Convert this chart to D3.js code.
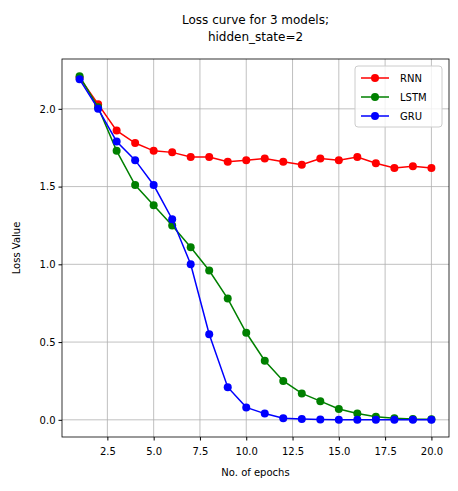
<!DOCTYPE html>
<html><head><meta charset="utf-8">
<script src="https://cdn.jsdelivr.net/npm/d3@7"></script>
<style>body{margin:0;background:#fff;font-family:"DejaVu Sans",sans-serif;}</style>
</head><body>
<svg width="458" height="491"></svg>
<script>
var epochs = d3.range(1, 21);
var rnn = [2.20,2.03,1.86,1.78,1.73,1.72,1.69,1.69,1.66,1.67,1.68,1.66,1.64,1.68,1.67,1.69,1.65,1.62,1.63,1.62];
var lstm = [2.21,2.01,1.73,1.51,1.38,1.25,1.11,0.96,0.78,0.56,0.38,0.25,0.17,0.12,0.07,0.04,0.02,0.01,0.005,0.003];
var gru = [2.19,2.00,1.79,1.67,1.51,1.29,1.00,0.55,0.21,0.08,0.04,0.01,0.005,0.002,0.001,0.001,0,0,0,0];
var seriesNames = ["RNN","LSTM","GRU"];
var seriesColors = ["#ff0000","#008000","#0000ff"];
var xTicks = [2.5,5,7.5,10,12.5,15,17.5,20];
var yTicks = [0,0.5,1,1.5,2];

var svg = d3.select("svg");
var pLeft = 62, pRight = 449, pTop = 59, pBottom = 437;
var x = d3.scaleLinear().domain([0.05, 20.95]).range([pLeft, pRight]);
var y = d3.scaleLinear().domain([-0.1105, 2.3205]).range([pBottom, pTop]);

var g = svg.append("g");
// grid
g.selectAll(".gx").data(xTicks).enter().append("line")
  .attr("x1", d => x(d)).attr("x2", d => x(d)).attr("y1", pTop).attr("y2", pBottom)
  .attr("stroke", "#b0b0b0").attr("stroke-width", 0.8);
g.selectAll(".gy").data(yTicks).enter().append("line")
  .attr("y1", d => y(d)).attr("y2", d => y(d)).attr("x1", pLeft).attr("x2", pRight)
  .attr("stroke", "#b0b0b0").attr("stroke-width", 0.8);

var xAxis = g.append("g").attr("transform", "translate(0," + pBottom + ")")
  .call(d3.axisBottom(x).tickValues(xTicks).tickFormat(d3.format(".1f")).tickSizeOuter(0).tickSize(3.5));
var yAxis = g.append("g").attr("transform", "translate(" + pLeft + ",0)")
  .call(d3.axisLeft(y).tickValues(yTicks).tickFormat(d3.format(".1f")).tickSizeOuter(0).tickSize(3.5));
[xAxis, yAxis].forEach(function(a) {
  a.select(".domain").remove();
  a.selectAll("text").attr("font-size", 10).attr("font-family", "DejaVu Sans").attr("fill", "#000");
});
xAxis.selectAll("text").attr("dy", "1.1em");

var line = d3.line().x((d, i) => x(epochs[i])).y(d => y(d));
[rnn, lstm, gru].forEach(function(s, k) {
  g.append("path").attr("d", line(s)).attr("fill", "none")
    .attr("stroke", seriesColors[k]).attr("stroke-width", 1.5);
  g.selectAll(".p" + k).data(s).enter().append("circle")
    .attr("cx", (d, i) => x(epochs[i])).attr("cy", d => y(d)).attr("r", 4)
    .attr("fill", seriesColors[k]);
});

g.append("rect").attr("x", pLeft).attr("y", pTop).attr("width", pRight - pLeft).attr("height", pBottom - pTop)
  .attr("fill", "none").attr("stroke", "#000").attr("stroke-width", 0.8);

// legend
var lg = g.append("g").attr("transform", "translate(355,66)");
lg.append("rect").attr("width", 87).attr("height", 61).attr("rx", 3)
  .attr("fill", "#fff").attr("fill-opacity", 0.8).attr("stroke", "#ccc");
seriesNames.forEach(function(n, k) {
  var yy = 12 + k * 19;
  lg.append("line").attr("x1", 6).attr("x2", 34).attr("y1", yy).attr("y2", yy)
    .attr("stroke", seriesColors[k]).attr("stroke-width", 1.5);
  lg.append("circle").attr("cx", 20).attr("cy", yy).attr("r", 4).attr("fill", seriesColors[k]);
  lg.append("text").attr("x", 45).attr("y", yy + 4).attr("font-size", 10).text(n);
});

svg.append("text").attr("x", (pLeft + pRight) / 2).attr("y", 24).attr("text-anchor", "middle")
  .attr("font-size", 12).text("Loss curve for 3 models;");
svg.append("text").attr("x", (pLeft + pRight) / 2).attr("y", 41).attr("text-anchor", "middle")
  .attr("font-size", 12).text("hidden_state=2");
svg.append("text").attr("x", (pLeft + pRight) / 2).attr("y", 476).attr("text-anchor", "middle")
  .attr("font-size", 10).text("No. of epochs");
svg.append("text").attr("transform", "translate(20," + (pTop + pBottom) / 2 + ") rotate(-90)")
  .attr("text-anchor", "middle").attr("font-size", 10).text("Loss Value");
</script>
</body></html>
